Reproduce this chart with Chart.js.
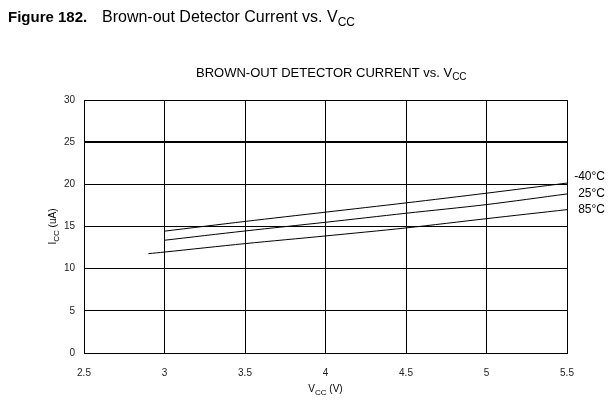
<!DOCTYPE html>
<html>
<head>
<meta charset="utf-8">
<script src="https://cdn.jsdelivr.net/npm/chart.js@4/dist/chart.umd.min.js"></script>
<style>
  html, body { margin: 0; padding: 0; background: #fff; }
  #wrap { width: 616px; height: 400px; position: relative; }
</style>
</head>
<body>
<div id="wrap"><canvas id="bodChart"></canvas></div>
<script>
// values
const vcc = [3, 3.5, 4, 4.5, 5, 5.5];
const iccMinus40 = [14.45, 15.6, 16.7, 17.8, 18.95, 20.15];
const icc25 = [13.37, 14.47, 15.5, 16.57, 17.6, 18.86];
const vcc85 = [2.9, 3, 3.5, 4, 4.5, 5, 5.5];
const icc85 = [11.78, 11.97, 12.97, 13.88, 14.83, 15.93, 17.0];
const seriesNames = ['-40°C', '25°C', '85°C'];
const xTicks = [2.5, 3, 3.5, 4, 4.5, 5, 5.5];
const yTicks = [0, 5, 10, 15, 20, 25, 30];

const FONT = '"Liberation Sans", Arial, sans-serif';

const toPoints = (xs, ys) => xs.map((x, i) => ({x: x, y: ys[i]}));

// draws a run of text with an optional subscript part: [[text, isSub], ...]
const drawRuns = (ctx, runs, x, y, size, weight) => {
    let cx = x;
    runs.forEach((r) => {
        const s = r[1] ? Math.round(size * 0.75) : size;
        ctx.font = (weight || 'normal') + ' ' + s + 'px ' + FONT;
        ctx.fillText(r[0], cx, r[1] ? y + Math.round(size * 0.25) : y);
        cx += ctx.measureText(r[0]).width;
    });
    return cx - x;
};
const runsWidth = (ctx, runs, size) => {
    let w = 0;
    runs.forEach((r) => {
        const s = r[1] ? Math.round(size * 0.75) : size;
        ctx.font = 'normal ' + s + 'px ' + FONT;
        w += ctx.measureText(r[0]).width;
    });
    return w;
};

const textPlugin = {
    id: 'textPlugin',
    afterDraw(chart) {
        const ctx = chart.ctx;
        const area = chart.chartArea;
        ctx.save();
        ctx.fillStyle = '#000';
        ctx.textBaseline = 'alphabetic';
        ctx.textAlign = 'left';

        // page heading
        ctx.font = 'bold 15px ' + FONT;
        ctx.fillText('Figure 182.', 8, 22);
        drawRuns(ctx, [['Brown-out Detector Current vs. V', false], ['CC', true]], 102, 22, 16);

        // chart title
        drawRuns(ctx, [['BROWN-OUT DETECTOR CURRENT vs. V', false], ['CC', true]], 196, 77, 13);

        // x axis title
        const xr = [['V', false], ['CC', true], [' (V)', false]];
        const xw = runsWidth(ctx, xr, 10);
        drawRuns(ctx, xr, (area.left + area.right) / 2 - xw / 2, 392, 10);

        // y axis title, rotated
        const yr = [['I', false], ['CC', true], [' (uA)', false]];
        const yw = runsWidth(ctx, yr, 10);
        ctx.save();
        ctx.translate(56, (area.top + area.bottom) / 2);
        ctx.rotate(-Math.PI / 2);
        drawRuns(ctx, yr, -yw / 2, 0, 10);
        ctx.restore();

        // series labels at the right end of each curve
        const ys = chart.scales.y;
        const offsets = [-6, 0, 0];
        ctx.font = '12px ' + FONT;
        ctx.textAlign = 'right';
        ctx.textBaseline = 'middle';
        chart.data.datasets.forEach((ds, i) => {
            const last = ds.data[ds.data.length - 1];
            ctx.fillText(seriesNames[i], 605, ys.getPixelForValue(last.y) + offsets[i]);
        });
        ctx.restore();
    }
};

const lineStyle = {
    borderColor: '#000',
    borderWidth: 1,
    pointRadius: 0,
    showLine: true,
    tension: 0.3,
    fill: false
};

new Chart(document.getElementById('bodChart'), {
    type: 'scatter',
    data: {
        datasets: [
            Object.assign({label: seriesNames[0], data: toPoints(vcc, iccMinus40)}, lineStyle),
            Object.assign({label: seriesNames[1], data: toPoints(vcc, icc25)}, lineStyle),
            Object.assign({label: seriesNames[2], data: toPoints(vcc85, icc85)}, lineStyle)
        ]
    },
    options: {
        responsive: true,
        maintainAspectRatio: false,
        animation: false,
        layout: {padding: {top: 100, right: 49, left: 0, bottom: 0}},
        plugins: {legend: {display: false}, tooltip: {enabled: false}, title: {display: false}},
        scales: {
            x: {
                type: 'linear',
                min: 2.5,
                max: 5.5,
                afterBuildTicks: (s) => { s.ticks = xTicks.map((v) => ({value: v})); },
                afterFit: (s) => { s.height = 47; },
                border: {display: true, color: '#000', width: 1},
                grid: {color: '#000', lineWidth: 1, drawTicks: false},
                ticks: {
                    color: '#222',
                    padding: 14,
                    font: {family: FONT, size: 10},
                    maxRotation: 0,
                    callback: (v) => String(v)
                }
            },
            y: {
                min: 0,
                max: 30,
                afterBuildTicks: (s) => { s.ticks = yTicks.map((v) => ({value: v})); },
                afterFit: (s) => { s.width = 84; },
                border: {display: true, color: '#000', width: 1},
                grid: {
                    color: '#000',
                    drawTicks: false,
                    lineWidth: (c) => (c.tick && c.tick.value === 25 ? 2 : 1)
                },
                ticks: {
                    color: '#222',
                    padding: 9,
                    font: {family: FONT, size: 10},
                    callback: (v) => String(v)
                }
            }
        }
    },
    plugins: [textPlugin]
});
</script>
</body>
</html>
